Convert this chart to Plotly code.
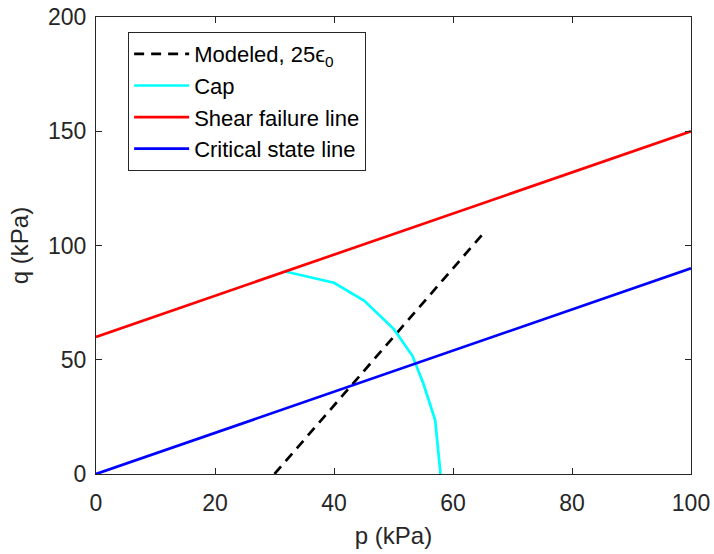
import plotly.graph_objects as go

# Data
p_line = [0, 100]
q_shear = [60, 150]
q_csl = [0, 90]
p_model = [30, 65]
q_model = [0, 105]
p_cap = [31.8, 40.0, 45.1, 50.1, 53.2, 55.0, 57.0, 57.9]
q_cap = [88.6, 83.7, 75.8, 63.3, 51.6, 39.7, 23.6, 0]

x_ticks = [0, 20, 40, 60, 80, 100]
y_ticks = [0, 50, 100, 150, 200]

font = "Arial, Liberation Sans, sans-serif"
axc = "#262626"

fig = go.Figure()
fig.add_trace(go.Scatter(x=p_model, y=q_model, mode="lines", name="Modeled, 25ϵ<sub>0</sub>",
                         line=dict(color="black", width=2.7, dash="10px,7px")))
fig.add_trace(go.Scatter(x=p_cap, y=q_cap, mode="lines", name="Cap",
                         line=dict(color="#00FFFF", width=2.7)))
fig.add_trace(go.Scatter(x=p_line, y=q_shear, mode="lines", name="Shear failure line",
                         line=dict(color="#FF0000", width=2.7)))
fig.add_trace(go.Scatter(x=p_line, y=q_csl, mode="lines", name="Critical state line",
                         line=dict(color="#0000FF", width=2.7)))

axis_common = dict(showgrid=False, zeroline=False, showline=True, linecolor=axc,
                   linewidth=1, mirror="ticks", ticks="inside", ticklen=6,
                   tickcolor=axc, automargin=False,
                   tickfont=dict(family=font, size=23, color=axc))

fig.update_layout(
    width=714, height=554,
    margin=dict(l=96, r=23, t=17, b=80),
    paper_bgcolor="white", plot_bgcolor="white",
    font=dict(family=font, color=axc),
    xaxis=dict(range=[0, 100], tickvals=x_ticks, ticklabelstandoff=8,
               title=dict(text="p (kPa)", font=dict(family=font, size=24), standoff=12),
               **axis_common),
    yaxis=dict(range=[0, 200], tickvals=y_ticks, ticklabelstandoff=4,
               title=dict(text="q (kPa)", font=dict(family=font, size=24), standoff=12),
               **axis_common),
    legend=dict(x=0.054, y=0.967, xanchor="left", yanchor="top",
                bgcolor="white", bordercolor=axc, borderwidth=1,
                font=dict(family=font, size=22, color="black"),
                itemwidth=55, tracegroupgap=0),
    showlegend=True,
)

fig.write_html("out.html")
